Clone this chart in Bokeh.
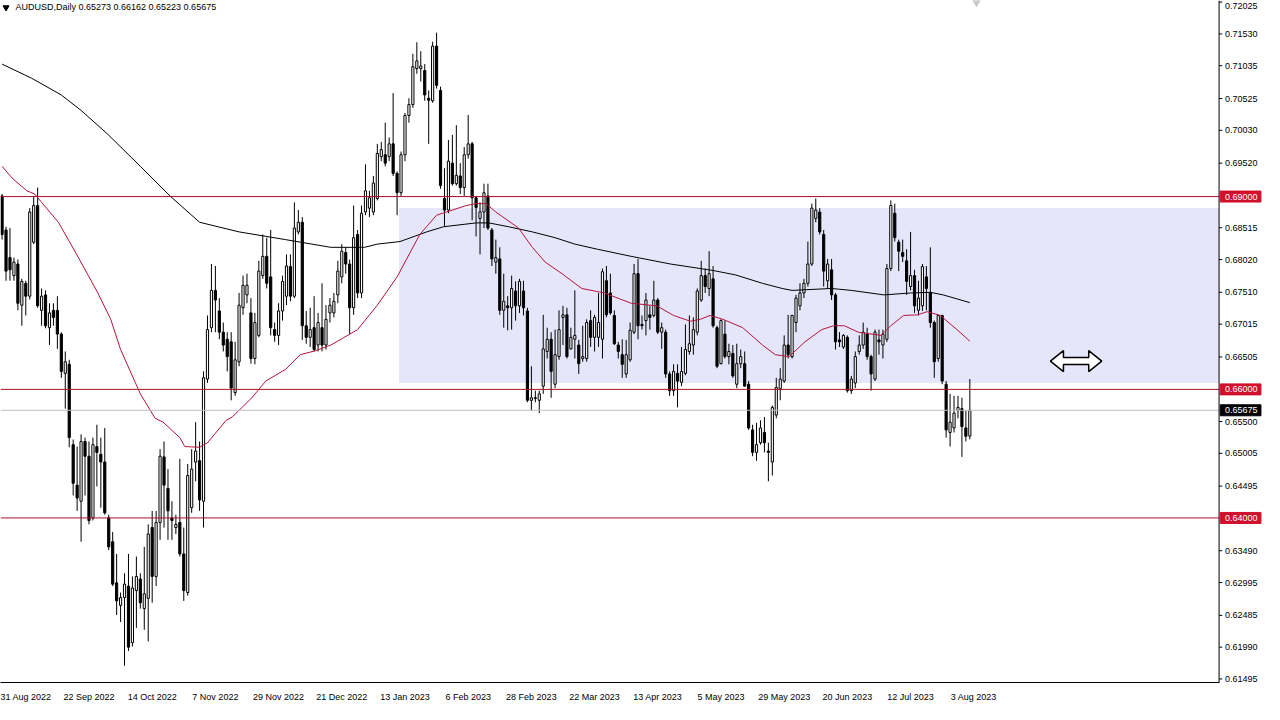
from bokeh.plotting import figure
from bokeh.models import ColumnDataSource, FixedTicker, Span, BoxAnnotation, Label, Range1d
from bokeh.core.properties import value
from bokeh.embed import file_html
from bokeh.resources import INLINE

# AUDUSD daily candles, 31 Aug 2022 .. 10 Aug 2023
opens = [
    0.6901, 0.6848, 0.6805, 0.6777, 0.6795, 0.6731, 0.6765, 0.6745, 0.6829, 0.6886,
    0.6723, 0.6747, 0.6696, 0.6723, 0.6723, 0.6686, 0.6625, 0.6639, 0.6514, 0.6451,
    0.6426, 0.6519, 0.6496, 0.6400, 0.6511, 0.6499, 0.6487, 0.6400, 0.6363, 0.6299,
    0.6264, 0.6276, 0.6294, 0.6206, 0.6287, 0.6305, 0.6259, 0.6275, 0.6385, 0.6309,
    0.6393, 0.6495, 0.6446, 0.6400, 0.6385, 0.6393, 0.6344, 0.6284, 0.6416, 0.6487,
    0.6489, 0.6426, 0.6616, 0.6696, 0.6754, 0.6722, 0.6689, 0.6678, 0.6674, 0.6595,
    0.6643, 0.6727, 0.6747, 0.6719, 0.6648, 0.6684, 0.6777, 0.6807, 0.6775, 0.6693,
    0.6684, 0.6722, 0.6745, 0.6791, 0.6745, 0.6845, 0.6860, 0.6699, 0.6681, 0.6696,
    0.6669, 0.6696, 0.6669, 0.6719, 0.6719, 0.6747, 0.6775, 0.6813, 0.6795, 0.6727,
    0.6841, 0.6750, 0.6876, 0.6882, 0.6876, 0.6897, 0.6962, 0.6965, 0.6962, 0.6982,
    0.6936, 0.6906, 0.6965, 0.7026, 0.7043, 0.7099, 0.7099, 0.7096, 0.7053, 0.7049,
    0.7134, 0.7065, 0.6897, 0.6879, 0.6952, 0.6920, 0.6932, 0.6914, 0.6965, 0.6982,
    0.6898, 0.6866, 0.6876, 0.6901, 0.6848, 0.6798, 0.6803, 0.6723, 0.6730, 0.6727,
    0.6753, 0.6730, 0.6753, 0.6722, 0.6583, 0.6587, 0.6583, 0.6605, 0.6659, 0.6678,
    0.6608, 0.6651, 0.6712, 0.6716, 0.6663, 0.6678, 0.6669, 0.6648, 0.6648, 0.6707,
    0.6681, 0.6681, 0.6678, 0.6769, 0.6750, 0.6715, 0.6669, 0.6654, 0.6624, 0.6646,
    0.6689, 0.6780, 0.6701, 0.6707, 0.6716, 0.6715, 0.6739, 0.6689, 0.6689, 0.6624,
    0.6598, 0.6625, 0.6611, 0.6625, 0.6659, 0.6669, 0.6689, 0.6739, 0.6777, 0.6757,
    0.6772, 0.6696, 0.6640, 0.6686, 0.6651, 0.6656, 0.6608, 0.6640, 0.6640, 0.6608,
    0.6537, 0.6502, 0.6517, 0.6533, 0.6504, 0.6487, 0.6560, 0.6601, 0.6613, 0.6669,
    0.6651, 0.6704, 0.6730, 0.6750, 0.6765, 0.6795, 0.6866, 0.6876, 0.6841, 0.6769,
    0.6786, 0.6747, 0.6677, 0.6666, 0.6681, 0.6598, 0.6610, 0.6659, 0.6669, 0.6686,
    0.6651, 0.6616, 0.6677, 0.6669, 0.6678, 0.6788, 0.6874, 0.6829, 0.6813, 0.6800,
    0.6760, 0.6777, 0.6723, 0.6730, 0.6775, 0.6750, 0.6704, 0.6648, 0.6715, 0.6608,
    0.6533, 0.6540, 0.6567, 0.6570, 0.6540, 0.65273,
]
highs = [
    0.6904, 0.6853, 0.6851, 0.6805, 0.6802, 0.6772, 0.6769, 0.6882, 0.6900, 0.6914,
    0.6757, 0.6754, 0.6734, 0.6734, 0.6745, 0.6689, 0.6659, 0.6646, 0.6522, 0.6511,
    0.6530, 0.6525, 0.6519, 0.6525, 0.6545, 0.6525, 0.6540, 0.6405, 0.6378, 0.6344,
    0.6284, 0.6314, 0.6344, 0.6309, 0.6340, 0.6314, 0.6355, 0.6390, 0.6411, 0.6411,
    0.6507, 0.6519, 0.6476, 0.6426, 0.6405, 0.6492, 0.6385, 0.6484, 0.6507, 0.6549,
    0.6519, 0.6628, 0.6715, 0.6795, 0.6792, 0.6742, 0.6704, 0.6689, 0.6689, 0.6674,
    0.6750, 0.6777, 0.6780, 0.6742, 0.6719, 0.6800, 0.6841, 0.6836, 0.6848, 0.6704,
    0.6734, 0.6777, 0.6810, 0.6810, 0.6891, 0.6879, 0.6868, 0.6722, 0.6727, 0.6745,
    0.6719, 0.6765, 0.6731, 0.6742, 0.6750, 0.6800, 0.6826, 0.6821, 0.6802, 0.6886,
    0.6848, 0.6886, 0.6950, 0.6909, 0.6932, 0.6982, 0.6985, 0.7015, 0.6992, 0.7061,
    0.6939, 0.6970, 0.7030, 0.7053, 0.7122, 0.7140, 0.7126, 0.7106, 0.7065, 0.7141,
    0.7155, 0.7071, 0.6944, 0.6988, 0.6996, 0.7011, 0.6952, 0.6977, 0.7027, 0.6985,
    0.6901, 0.6891, 0.6920, 0.6920, 0.6851, 0.6833, 0.6821, 0.6780, 0.6745, 0.6777,
    0.6768, 0.6772, 0.6769, 0.6727, 0.6636, 0.6598, 0.6598, 0.6716, 0.6696, 0.6689,
    0.6693, 0.6723, 0.6730, 0.6727, 0.6696, 0.6754, 0.6677, 0.6699, 0.6709, 0.6723,
    0.6716, 0.6750, 0.6788, 0.6792, 0.6780, 0.6723, 0.6674, 0.6678, 0.6677, 0.6704,
    0.6795, 0.6803, 0.6715, 0.6750, 0.6730, 0.6769, 0.6742, 0.6704, 0.6693, 0.6628,
    0.6639, 0.6639, 0.6666, 0.6701, 0.6715, 0.6712, 0.6757, 0.6800, 0.6788, 0.6815,
    0.6792, 0.6699, 0.6709, 0.6707, 0.6671, 0.6669, 0.6671, 0.6662, 0.6659, 0.6613,
    0.6545, 0.6548, 0.6552, 0.6557, 0.6517, 0.6575, 0.6618, 0.6633, 0.6684, 0.6716,
    0.6716, 0.6747, 0.6765, 0.6772, 0.6830, 0.6889, 0.6897, 0.6882, 0.6848, 0.6803,
    0.6803, 0.6750, 0.6689, 0.6686, 0.6684, 0.6621, 0.6659, 0.6684, 0.6704, 0.6696,
    0.6654, 0.6693, 0.6693, 0.6693, 0.6795, 0.6894, 0.6889, 0.6833, 0.6833, 0.6818,
    0.6845, 0.6786, 0.6769, 0.6795, 0.6792, 0.6821, 0.6707, 0.6716, 0.6716, 0.6613,
    0.6593, 0.6590, 0.6590, 0.6587, 0.6567, 0.66162,
]
lows = [
    0.6833, 0.6769, 0.6769, 0.6769, 0.6723, 0.6699, 0.6715, 0.6740, 0.6826, 0.6727,
    0.6699, 0.6695, 0.6669, 0.6699, 0.6663, 0.6618, 0.6570, 0.6510, 0.6435, 0.6411,
    0.6363, 0.6435, 0.6390, 0.6396, 0.6449, 0.6416, 0.6405, 0.6350, 0.6294, 0.6249,
    0.6238, 0.6170, 0.6193, 0.6200, 0.6229, 0.6259, 0.6226, 0.6208, 0.6268, 0.6294,
    0.6366, 0.6385, 0.6366, 0.6366, 0.6375, 0.6340, 0.6271, 0.6279, 0.6408, 0.6457,
    0.6411, 0.6385, 0.6610, 0.6689, 0.6689, 0.6678, 0.6659, 0.6628, 0.6583, 0.6590,
    0.6636, 0.6716, 0.6734, 0.6640, 0.6639, 0.6681, 0.6772, 0.6757, 0.6684, 0.6674,
    0.6669, 0.6707, 0.6731, 0.6737, 0.6742, 0.6841, 0.6677, 0.6671, 0.6666, 0.6659,
    0.6659, 0.6659, 0.6662, 0.6704, 0.6712, 0.6734, 0.6765, 0.6780, 0.6686, 0.6716,
    0.6742, 0.6742, 0.6871, 0.6868, 0.6871, 0.6894, 0.6955, 0.6947, 0.6955, 0.6932,
    0.6871, 0.6901, 0.6955, 0.7015, 0.7038, 0.7091, 0.7079, 0.7049, 0.6982, 0.7046,
    0.7068, 0.6912, 0.6853, 0.6874, 0.6917, 0.6917, 0.6904, 0.6901, 0.6959, 0.6863,
    0.6838, 0.6810, 0.6851, 0.6848, 0.6792, 0.6780, 0.6716, 0.6696, 0.6692, 0.6693,
    0.6707, 0.6719, 0.6715, 0.6580, 0.6567, 0.6580, 0.6563, 0.6593, 0.6648, 0.6587,
    0.6602, 0.6646, 0.6669, 0.6648, 0.6662, 0.6648, 0.6624, 0.6643, 0.6643, 0.6666,
    0.6659, 0.6666, 0.6648, 0.6712, 0.6716, 0.6669, 0.6648, 0.6618, 0.6618, 0.6643,
    0.6686, 0.6678, 0.6693, 0.6684, 0.6693, 0.6712, 0.6686, 0.6663, 0.6618, 0.6590,
    0.6590, 0.6572, 0.6605, 0.6622, 0.6654, 0.6654, 0.6684, 0.6736, 0.6750, 0.6745,
    0.6696, 0.6633, 0.6639, 0.6648, 0.6639, 0.6618, 0.6602, 0.6633, 0.6605, 0.6537,
    0.6496, 0.6489, 0.6514, 0.6502, 0.6457, 0.6466, 0.6555, 0.6583, 0.6610, 0.6648,
    0.6648, 0.6689, 0.6723, 0.6742, 0.6760, 0.6792, 0.6860, 0.6841, 0.6760, 0.6757,
    0.6739, 0.6662, 0.6666, 0.6663, 0.6595, 0.6593, 0.6602, 0.6654, 0.6663, 0.6646,
    0.6598, 0.6613, 0.6654, 0.6648, 0.6674, 0.6784, 0.6830, 0.6784, 0.6798, 0.6747,
    0.6754, 0.6719, 0.6715, 0.6722, 0.6723, 0.6696, 0.6618, 0.6643, 0.6608, 0.6525,
    0.6511, 0.6533, 0.6555, 0.6495, 0.6519, 0.65223,
]
closes = [
    0.6841, 0.6784, 0.6786, 0.6798, 0.6734, 0.6768, 0.6745, 0.6876, 0.6886, 0.6730,
    0.6745, 0.6699, 0.6719, 0.6712, 0.6686, 0.6628, 0.6643, 0.6525, 0.6454, 0.6431,
    0.6519, 0.6496, 0.6396, 0.6514, 0.6502, 0.6487, 0.6408, 0.6355, 0.6297, 0.6271,
    0.6276, 0.6297, 0.6199, 0.6291, 0.6309, 0.6268, 0.6282, 0.6375, 0.6309, 0.6393,
    0.6496, 0.6451, 0.6411, 0.6396, 0.6390, 0.6344, 0.6287, 0.6466, 0.6476, 0.6504,
    0.6428, 0.6618, 0.6693, 0.6754, 0.6739, 0.6689, 0.6669, 0.6651, 0.6602, 0.6646,
    0.6731, 0.6762, 0.6762, 0.6648, 0.6704, 0.6784, 0.6807, 0.6765, 0.6696, 0.6684,
    0.6722, 0.6768, 0.6792, 0.6745, 0.6851, 0.6860, 0.6699, 0.6681, 0.6693, 0.6662,
    0.6704, 0.6669, 0.6709, 0.6731, 0.6737, 0.6784, 0.6815, 0.6795, 0.6727, 0.6836,
    0.6750, 0.6874, 0.6909, 0.6898, 0.6921, 0.6967, 0.6973, 0.6952, 0.6982, 0.6936,
    0.6906, 0.6965, 0.7026, 0.7043, 0.7102, 0.7111, 0.7103, 0.7058, 0.7050, 0.7134,
    0.7073, 0.6917, 0.6879, 0.6955, 0.6920, 0.6933, 0.6914, 0.6965, 0.6982, 0.6898,
    0.6883, 0.6876, 0.6906, 0.6851, 0.6803, 0.6805, 0.6723, 0.6737, 0.6727, 0.6757,
    0.6730, 0.6768, 0.6727, 0.6583, 0.6587, 0.6586, 0.6593, 0.6663, 0.6678, 0.6628,
    0.6654, 0.6693, 0.6716, 0.6651, 0.6681, 0.6684, 0.6640, 0.6651, 0.6704, 0.6681,
    0.6712, 0.6704, 0.6783, 0.6716, 0.6719, 0.6671, 0.6659, 0.6639, 0.6654, 0.6692,
    0.6780, 0.6699, 0.6699, 0.6739, 0.6712, 0.6739, 0.6689, 0.6696, 0.6624, 0.6598,
    0.6628, 0.6613, 0.6628, 0.6662, 0.6671, 0.6693, 0.6753, 0.6777, 0.6760, 0.6780,
    0.6699, 0.6636, 0.6707, 0.6651, 0.6659, 0.6621, 0.6640, 0.6651, 0.6605, 0.6540,
    0.6502, 0.6514, 0.6540, 0.6517, 0.6502, 0.6572, 0.6603, 0.6616, 0.6669, 0.6654,
    0.6715, 0.6742, 0.6750, 0.6765, 0.6795, 0.6882, 0.6879, 0.6845, 0.6784, 0.6795,
    0.6747, 0.6674, 0.6674, 0.6684, 0.6598, 0.6616, 0.6651, 0.6669, 0.6689, 0.6651,
    0.6624, 0.6689, 0.6674, 0.6686, 0.6788, 0.6886, 0.6836, 0.6815, 0.6807, 0.6768,
    0.6777, 0.6730, 0.6742, 0.6791, 0.6757, 0.6704, 0.6643, 0.6715, 0.6613, 0.6537,
    0.6549, 0.6563, 0.6572, 0.6542, 0.6527, 0.65675,
]

# moving averages, sampled along the drawn curves (bar index, price)
ma50_bar = [0, 2.5, 6.25, 8.25, 10, 14.25, 19.25, 24.25, 27.5, 30, 35, 38.75, 40.75, 45,
            46.25, 50, 52, 56.75, 58.25, 63.25, 66.75, 71.75, 75.5, 79.25, 83.25, 90, 95,
            100, 105.75, 110, 112.5, 117.5, 120, 122.5, 125, 130.75, 134.25, 137.5, 141.75,
            146.75, 152.5, 159.25, 165.75, 170, 174.25, 176.75, 179.25, 182.5, 187.5, 192.5,
            195.75, 199.25, 203.25, 207.5, 210.5, 213.25, 216.75, 222.5, 225, 228.25, 231.75,
            234.25, 237.5, 241.75, 245]
ma50_val = [0.6947, 0.6929, 0.6909, 0.6904, 0.6891, 0.6860, 0.6806, 0.6750, 0.6709, 0.6662,
            0.6593, 0.6555, 0.6549, 0.6525, 0.6511, 0.6510, 0.6517, 0.6552, 0.6557, 0.6587,
            0.6613, 0.6631, 0.6654, 0.6660, 0.6669, 0.6693, 0.6731, 0.6775, 0.6841, 0.6871,
            0.6876, 0.6886, 0.6889, 0.6889, 0.6876, 0.6851, 0.6821, 0.6798, 0.6780, 0.6757,
            0.6750, 0.6734, 0.6730, 0.6715, 0.6706, 0.6709, 0.6715, 0.6709, 0.6696, 0.6669,
            0.6654, 0.6651, 0.6674, 0.6693, 0.6699, 0.6699, 0.6689, 0.6684, 0.6699, 0.6715,
            0.6716, 0.6721, 0.6715, 0.6693, 0.6675]
ma200_bar = [0, 7.5, 15, 20, 26.75, 35, 42.5, 50, 60, 71.75, 83.25, 91.75, 95, 100.75, 107.5,
             111.75, 120, 123.25, 128.25, 134.25, 140, 145, 150.75, 159.25, 169.25, 180,
             185.75, 192.5, 197.5, 200, 210, 215, 223.25, 230, 235, 238.25, 245]
ma200_val = [0.7106, 0.7084, 0.7058, 0.7034, 0.6997, 0.6947, 0.6901, 0.6860, 0.6845, 0.6833,
             0.6821, 0.6821, 0.6826, 0.6830, 0.6845, 0.6853, 0.6859, 0.6859, 0.6853, 0.6845,
             0.6836, 0.6826, 0.6818, 0.6807, 0.6795, 0.6785, 0.6778, 0.6765, 0.6757, 0.6754,
             0.6757, 0.6754, 0.6747, 0.6750, 0.6751, 0.6747, 0.6735]

date_bars = [0, 16, 32, 48, 64, 80, 96, 112, 128, 144, 160, 176, 192, 208, 224, 240]
date_labels = ["31 Aug 2022", "22 Sep 2022", "14 Oct 2022", "7 Nov 2022", "29 Nov 2022",
               "21 Dec 2022", "13 Jan 2023", "6 Feb 2023", "28 Feb 2023", "22 Mar 2023",
               "13 Apr 2023", "5 May 2023", "29 May 2023", "20 Jun 2023", "12 Jul 2023",
               "3 Aug 2023"]
price_ticks = [0.72025, 0.71530, 0.71035, 0.70525, 0.70030, 0.69520, 0.68515, 0.68020,
               0.67510, 0.67015, 0.66505, 0.65500, 0.65005, 0.64495, 0.63490, 0.62995,
               0.62485, 0.61990, 0.61495]
levels = [0.69, 0.66, 0.64]
last_price = 0.65675
zone_top, zone_bottom, zone_start = 0.6882, 0.6610, 100.5

RED = "#D0102C"
LINE_RED = "#B0102A"
FONT = "Liberation Sans"

bars = list(range(len(opens)))
up = [c >= o for o, c in zip(opens, closes)]
src = ColumnDataSource(dict(
    x=bars, high=highs, low=lows,
    top=[max(o, c) for o, c in zip(opens, closes)],
    bottom=[min(o, c) for o, c in zip(opens, closes)],
    fill=["white" if u else "black" for u in up],
))

# bar axis: chart area ends at the price scale (axis_x), scale labels live right of it
x0, axis_x, x1 = -0.4, 308.1, 319.6
y0, y1 = 0.6144, 0.7205
p = figure(width=1264, height=704, x_range=Range1d(x0, x1), y_range=Range1d(y0, y1),
           toolbar_location=None, output_backend="svg", y_axis_location=None,
           min_border_left=0, min_border_top=0, min_border_right=0, min_border_bottom=0)
p.outline_line_color = None
p.grid.visible = False
px = (y1 - y0) / 683  # price per screen pixel

# highlighted range
p.add_layout(BoxAnnotation(left=zone_start, right=axis_x, top=zone_top, bottom=zone_bottom,
                           fill_color="#E6E6FA", fill_alpha=1, line_color=None,
                           level="underlay"))

# candles
p.segment(x0="x", y0="low", x1="x", y1="high", source=src, line_color="black", line_width=1)
p.vbar(x="x", width=0.55, top="top", bottom="bottom", source=src,
       fill_color="fill", line_color="black", line_width=1)

# moving averages
p.line(ma200_bar, ma200_val, line_color="black", line_width=1)
p.line(ma50_bar, ma50_val, line_color="#B4143C", line_width=1)

# horizontal levels and bid line, stopping at the price scale
n = len(levels)
p.segment(x0=[x0] * n, y0=levels, x1=[axis_x] * n, y1=levels, line_color=LINE_RED, line_width=1)
p.segment(x0=[x0], y0=[last_price], x1=[axis_x], y1=[last_price], line_color="#C0C0C0",
          line_width=1)

# bottom axis (dates), labels start at their bar like the terminal does
xa = p.xaxis[0]
shift = 6
xa.bounds = (x0, axis_x)
xa.ticker = FixedTicker(ticks=[b + shift for b in date_bars])
xa.major_label_overrides = {b + shift: lab for b, lab in zip(date_bars, date_labels)}
xa.major_tick_line_color = None
xa.minor_tick_line_color = None
xa.major_label_standoff = 3
xa.major_label_text_font = FONT
xa.major_label_text_font_size = "9px"
xa.major_label_text_color = "black"
xa.axis_line_color = "black"

# price scale on the right
p.add_layout(Span(location=axis_x, dimension="height", line_color="black", line_width=1))
m = len(price_ticks)
p.segment(x0=[axis_x] * m, y0=price_ticks, x1=[axis_x + 0.8] * m, y1=price_ticks,
          line_color="black", line_width=1)
label_y = [min(t, y1 - 5.5 * px) for t in price_ticks]  # keep the top label inside
p.text(x=[axis_x + 1.5] * m, y=label_y, text=["%.5f" % t for t in price_ticks],
       text_font=value(FONT), text_font_size="9px", text_baseline="middle",
       text_align="left", text_color="black")

# price tags on the scale
tag_y = levels + [last_price]
tag_col = [RED] * n + ["black"]
p.quad(left=[axis_x + 0.3] * (n + 1), right=[axis_x + 10.6] * (n + 1),
       top=[v + 5.5 * px for v in tag_y], bottom=[v - 5.5 * px for v in tag_y],
       fill_color=tag_col, line_color=tag_col)
p.text(x=[axis_x + 1.5] * (n + 1), y=tag_y, text=["%.5f" % v for v in tag_y],
       text_font=value(FONT), text_font_size="9px", text_baseline="middle",
       text_align="left", text_color="white")

# header
p.scatter([x0 + 1.4], [y1 - 7 * px], marker="inverted_triangle", size=6, color="black")
p.add_layout(Label(x=x0 + 3.8, y=y1 - 7 * px,
                   text="AUDUSD,Daily  %.5f %.5f %.5f %.5f" % (opens[-1], highs[-1], lows[-1], closes[-1]),
                   text_font=FONT, text_font_size="9px", text_baseline="middle",
                   text_color="black"))
# chart shift marker
p.scatter([len(bars) + 0.7], [y1 - 2 * px], marker="inverted_triangle", size=7,
          color="#C8C8C8")

# mouse cursor (double arrow)
cx, cy = 271.9, 0.6644
hw, hl = 6.5, 3.3
hh, sh = 10.5 * px, 3.5 * px
p.patch([cx - hw, cx - hw + hl, cx - hw + hl, cx + hw - hl, cx + hw - hl, cx + hw,
         cx + hw - hl, cx + hw - hl, cx - hw + hl, cx - hw + hl],
        [cy, cy + hh, cy + sh, cy + sh, cy + hh, cy, cy - hh, cy - sh, cy - sh, cy - hh],
        fill_color="white", line_color="black", line_width=1.5)

open("out.html", "w").write(file_html(p, INLINE))
